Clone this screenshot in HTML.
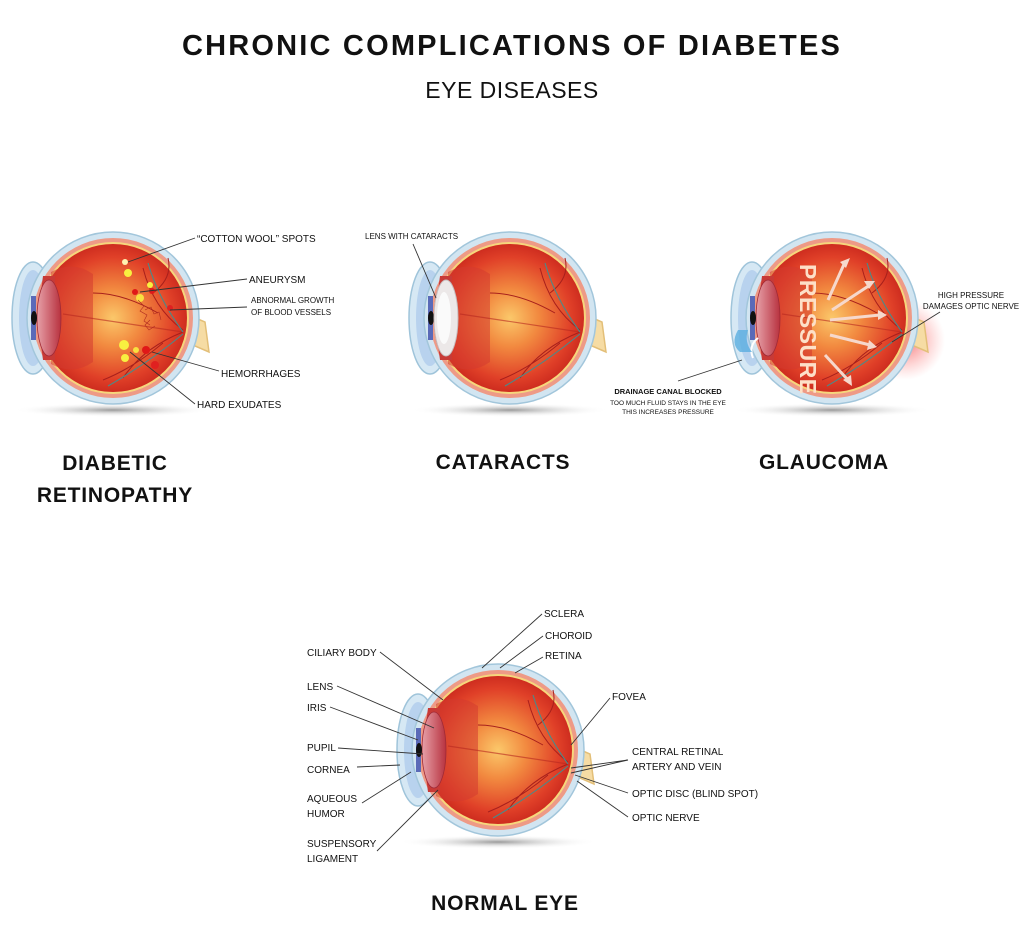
<!DOCTYPE html>
<html><head><meta charset="utf-8"><style>
html,body{margin:0;padding:0;background:#fff}
svg{display:block}
.t{font-family:"Liberation Sans",sans-serif;fill:#111}
.s{font-size:10px}
.xs{font-size:8px}
.big{font-size:21px;font-weight:900;letter-spacing:0.8px}
.ln{stroke:#333;stroke-width:0.9;fill:none}
</style></head><body>
<svg width="1024" height="929" viewBox="0 0 1024 929" xmlns="http://www.w3.org/2000/svg">
<defs>
<radialGradient id="inner" cx="0.5" cy="0.5" r="0.55">
<stop offset="0" stop-color="#fbc86a"/><stop offset="0.35" stop-color="#f28a40"/><stop offset="0.75" stop-color="#e04028"/><stop offset="1" stop-color="#c4221a"/>
</radialGradient>
<radialGradient id="shadow" cx="0.5" cy="0.5" r="0.5">
<stop offset="0" stop-color="#9a9a9a"/><stop offset="1" stop-color="#fff" stop-opacity="0"/>
</radialGradient>
<radialGradient id="glow" cx="0.5" cy="0.5" r="0.5">
<stop offset="0" stop-color="#f03030" stop-opacity="0.7"/><stop offset="1" stop-color="#ff8080" stop-opacity="0"/>
</radialGradient>
<linearGradient id="lens" x1="0" x2="1"><stop offset="0" stop-color="#e6a0a8"/><stop offset="1" stop-color="#b8323f"/></linearGradient>
<g id="eye">
<ellipse cx="0" cy="92" rx="100" ry="7" fill="url(#shadow)"/>
<path d="M64,-8 L92,4 L96,34 L68,22 Z" fill="#f6dca4" stroke="#e3bf78" stroke-width="1.5"/>
<ellipse cx="-80" cy="0" rx="21" ry="56" fill="#d6e8f4" stroke="#9fc4da" stroke-width="1.5"/>
<ellipse cx="-80" cy="0" rx="14" ry="48" fill="#b8d2ee"/>
<circle r="86" fill="#d2e5f1" stroke="#a2c6db" stroke-width="1.5"/>
<circle r="80" fill="#ee9a86"/>
<circle r="76" fill="#f6d67c"/>
<circle r="74" fill="url(#inner)"/>
<path d="M-62,-46 Q-40,-58 -20,-44 L-20,44 Q-40,58 -62,46 Z" fill="#d33a30" opacity="0.55"/>
<path d="M-74,-12 L-70,-42 L-58,-42 L-58,42 L-70,42 L-74,12 Z" fill="#c83a36"/>
<ellipse cx="-64" cy="0" rx="12" ry="38" fill="url(#lens)" stroke="#a02a36" stroke-width="0.8"/>
<rect x="-82" y="-22" width="5" height="44" fill="#5a6ab8"/>
<ellipse cx="-79" cy="0" rx="3" ry="7" fill="#111"/>
<path d="M-50,-4 L70,14" stroke="#b82820" stroke-width="1.2" opacity="0.6"/>
<g fill="none" stroke="#a8201c" stroke-width="1">
<path d="M70,12 Q40,-10 30,-50 M45,-5 Q10,-25 -20,-25 M70,14 Q30,30 10,60 M50,25 Q20,50 -10,62 M40,-25 Q60,-40 55,-60"/>
</g>
<g fill="none" stroke="#4a8a8a" stroke-width="1.1">
<path d="M70,14 Q45,-20 35,-55 M70,16 Q35,45 -5,68"/>
</g>
</g>
</defs>

<text x="512" y="55" text-anchor="middle" class="t" style="font-size:29px;font-weight:900;letter-spacing:2.2px">CHRONIC COMPLICATIONS OF DIABETES</text>
<text x="512" y="98" text-anchor="middle" class="t" style="font-size:23px;letter-spacing:0.5px">EYE DISEASES</text>

<!-- Diabetic retinopathy -->
<use href="#eye" x="113" y="318"/>
<g>
<circle cx="125" cy="262" r="3" fill="#fff2b0"/><circle cx="128" cy="273" r="4" fill="#f8f040"/>
<circle cx="150" cy="285" r="3" fill="#f8f040"/><circle cx="140" cy="298" r="4" fill="#f8e040"/>
<circle cx="124" cy="345" r="5" fill="#f8f040"/><circle cx="136" cy="350" r="3" fill="#f8e040"/>
<circle cx="125" cy="358" r="4" fill="#f8f040"/>
<circle cx="135" cy="292" r="3" fill="#e01818"/><circle cx="152" cy="291" r="3" fill="#e01818"/>
<circle cx="146" cy="350" r="4" fill="#e01818"/><circle cx="155" cy="365" r="4" fill="#e02020"/>
<circle cx="170" cy="308" r="3" fill="#e02020"/>
<g stroke="#b02a20" stroke-width="0.6" fill="none"><path d="M138,300 l6,6 l-4,5 l7,4 l-3,6 l6,4 M145,310 l6,-3 l3,7 l5,-2 l2,8 M150,320 l-5,5 l4,5 l6,-4"/></g>
</g>
<g class="ln">
<path d="M195,238 L128,262"/><path d="M247,279 L140,292"/><path d="M247,307 L170,310"/><path d="M219,371 L152,352"/><path d="M195,404 L130,352"/>
</g>
<text x="197" y="242" class="t s">“COTTON WOOL” SPOTS</text>
<text x="249" y="283" class="t s">ANEURYSM</text>
<text x="251" y="303" class="t xs">ABNORMAL GROWTH</text>
<text x="251" y="315" class="t xs">OF BLOOD VESSELS</text>
<text x="221" y="377" class="t s">HEMORRHAGES</text>
<text x="197" y="408" class="t s">HARD EXUDATES</text>
<text x="115" y="470" text-anchor="middle" class="t big">DIABETIC</text>
<text x="115" y="502" text-anchor="middle" class="t big">RETINOPATHY</text>

<!-- Cataracts -->
<use href="#eye" x="510" y="318"/>
<ellipse cx="446" cy="318" rx="12" ry="38" fill="#ece8e8" stroke="#c8bcbc"/>
<ellipse cx="444" cy="318" rx="7" ry="26" fill="#fafafa"/>
<path class="ln" d="M413,244 L436,298"/>
<text x="365" y="239" class="t xs">LENS WITH CATARACTS</text>
<text x="503" y="469" text-anchor="middle" class="t big">CATARACTS</text>

<!-- Glaucoma -->
<circle cx="905" cy="340" r="40" fill="url(#glow)"/>
<use href="#eye" x="832" y="318"/>
<path d="M758,338 q-10,8 -5,20" stroke="#fff" stroke-width="2" fill="none"/>
<path d="M738,330 q-8,14 2,22 l12,0 q-8,-10 -4,-22z" fill="#5aaee0" opacity="0.8"/>
<text transform="translate(800,264) rotate(90)" class="t" style="font-size:23px;font-weight:900;fill:#fde0c8;letter-spacing:0.5px">PRESSURE</text>
<g stroke="#f6d8cc" stroke-width="3" fill="none">
<path d="M828,300 L845,262 M832,310 L870,285 M830,320 L880,315 M830,335 L870,345 M825,355 L848,380"/>
</g>
<g fill="#f6d8cc">
<path d="M850,258 l-10,4 l6,6z M875,281 l-11,0 l5,8z M887,315 l-9,-5 l0,10z M877,347 l-8,-7 l-2,10z M852,386 l-1,-11 l-8,5z"/>
</g>
<g class="ln"><path d="M940,312 L892,342"/><path d="M678,381 L742,360"/></g>
<text x="971" y="298" text-anchor="middle" class="t xs">HIGH PRESSURE</text>
<text x="971" y="309" text-anchor="middle" class="t xs">DAMAGES  OPTIC NERVE</text>
<text x="668" y="394" text-anchor="middle" class="t" style="font-size:7.5px;font-weight:900">DRAINAGE CANAL BLOCKED</text>
<text x="668" y="405" text-anchor="middle" class="t" style="font-size:6.5px">TOO MUCH FLUID STAYS IN THE EYE</text>
<text x="668" y="414" text-anchor="middle" class="t" style="font-size:6.5px">THIS INCREASES PRESSURE</text>
<text x="824" y="469" text-anchor="middle" class="t big">GLAUCOMA</text>

<!-- Normal eye -->
<use href="#eye" x="498" y="750"/>
<g class="ln">
<path d="M380,652 L443,700"/><path d="M337,686 L434,728"/><path d="M330,707 L418,740"/><path d="M338,748 L423,754"/><path d="M357,767 L400,765"/><path d="M362,803 L411,772"/><path d="M377,851 L438,790"/>
<path d="M542,614 L482,668"/><path d="M543,636 L500,668"/><path d="M543,657 L515,673"/><path d="M610,698 L571,745"/>
<path d="M628,760 L571,773 M628,760 L571,768"/><path d="M628,793 L575,775"/><path d="M628,817 L577,781"/>
</g>
<g class="t s">
<text x="307" y="656">CILIARY BODY</text>
<text x="307" y="690">LENS</text>
<text x="307" y="711">IRIS</text>
<text x="307" y="751">PUPIL</text>
<text x="307" y="773">CORNEA</text>
<text x="307" y="802">AQUEOUS</text>
<text x="307" y="817">HUMOR</text>
<text x="307" y="847">SUSPENSORY</text>
<text x="307" y="862">LIGAMENT</text>
<text x="544" y="617">SCLERA</text>
<text x="545" y="639">CHOROID</text>
<text x="545" y="659">RETINA</text>
<text x="612" y="700">FOVEA</text>
<text x="632" y="755">CENTRAL RETINAL</text>
<text x="632" y="770">ARTERY AND VEIN</text>
<text x="632" y="797">OPTIC DISC (BLIND SPOT)</text>
<text x="632" y="821">OPTIC NERVE</text>
</g>
<text x="505" y="910" text-anchor="middle" class="t big">NORMAL EYE</text>
</svg>
</body></html>
